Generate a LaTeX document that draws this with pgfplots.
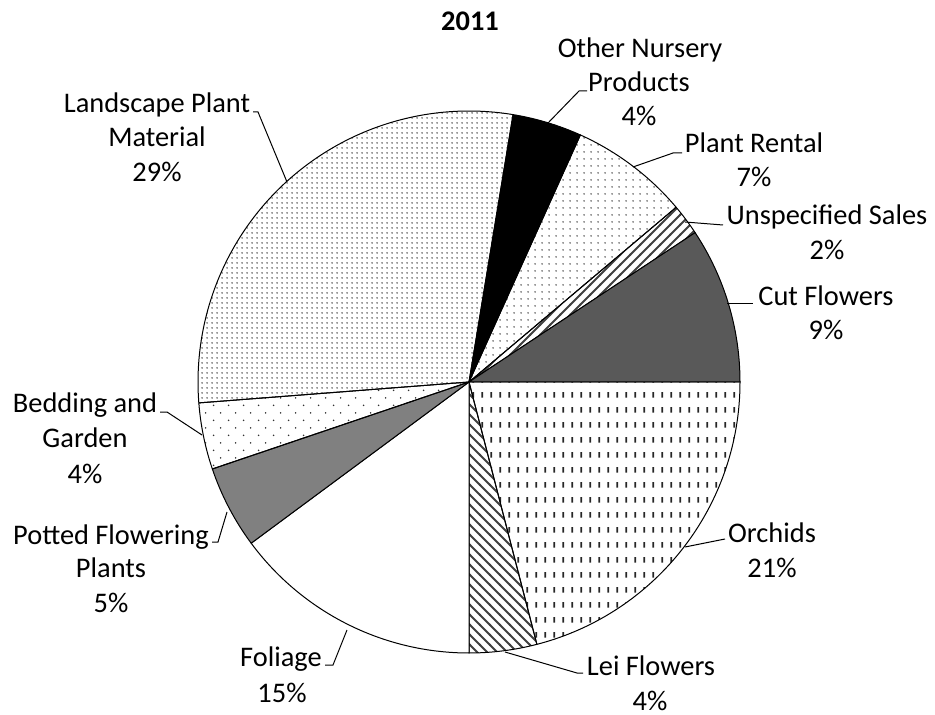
\documentclass[border=0pt]{standalone}
\usepackage{pgfplots}
\pgfplotsset{compat=1.18}
\usepackage{pgfplotstable}
\usetikzlibrary{patterns.meta}
\usepackage{fontspec}
\setmainfont{Carlito}

% slice shares in percent, clockwise from 3 o'clock
\pgfplotstableread{
pct   style
20.97 sOrch
4.03  sLei
14.86 sFol
4.94  sPot
3.97  sBed
28.83 sLand
4.14  sOther
7.11  sRent
1.86  sUnsp
9.29  sCut
}\pietable

\tikzdeclarepattern{name=vdash, type=colored,
  bounding box={(0,0) and (4.6pt,7.3pt)}, tile size={(4.6pt,7.3pt)},
  code={\fill[black!85] (1.8pt,2.3pt) rectangle (2.8pt,5pt);}}
\tikzdeclarepattern{name=nwl, type=colored,
  bounding box={(-0.5pt,-0.5pt) and (5.5pt,5.5pt)}, tile size={(5pt,5pt)},
  code={\draw[black!75, line width=0.9pt] (-0.5pt,5.5pt) -- (5.5pt,-0.5pt);}}
\tikzdeclarepattern{name=nel, type=colored,
  bounding box={(-0.5pt,-0.5pt) and (5.5pt,5.5pt)}, tile size={(5pt,5pt)},
  code={\draw[black!75, line width=0.9pt] (-0.5pt,-0.5pt) -- (5.5pt,5.5pt);}}
\tikzdeclarepattern{name=densedots, type=colored,
  bounding box={(0,0) and (2.5pt,2.5pt)}, tile size={(2.5pt,2.5pt)},
  code={\fill[black!80] (1.25pt,1.25pt) circle (0.45pt);}}
\tikzdeclarepattern{name=middots, type=colored,
  bounding box={(0,0) and (3.5pt,3.5pt)}, tile size={(3.5pt,3.5pt)},
  code={\fill[black!80] (1.75pt,1.75pt) circle (0.45pt);}}
\tikzdeclarepattern{name=sparsedots, type=colored,
  bounding box={(0,0) and (7.5pt,7.7pt)}, tile size={(7.5pt,7.7pt)},
  code={\fill[black!80] (1.9pt,1.9pt) circle (0.45pt);
        \fill[black!80] (5.65pt,5.75pt) circle (0.45pt);}}

\tikzset{
  sOrch/.style={pattern=vdash},
  sLei/.style={pattern=nwl},
  sFol/.style={fill=white},
  sPot/.style={fill=black!50},
  sBed/.style={pattern=sparsedots},
  sLand/.style={pattern=densedots},
  sOther/.style={fill=black},
  sRent/.style={pattern=middots},
  sUnsp/.style={pattern=nel},
  sCut/.style={fill=black!65},
}

\newcommand\lblfont{\fontsize{14.2}{17}\selectfont}
\newcommand\lbl[3]{\node[anchor=base, inner sep=0pt, font=\lblfont] at (axis cs:#1,#2) {#3};}

\begin{document}
\begin{tikzpicture}
\pgfplotstablegetrowsof{\pietable}
\pgfmathtruncatemacro\lastrow{\pgfplotsretval-1}
\begin{axis}[
    hide axis, scale only axis,
    width=467.5pt, height=357.5pt,
    xmin=0, xmax=935, ymin=0, ymax=715,
    y dir=reverse, clip=false
]
\path (axis cs:0,0) rectangle (axis cs:935,715);

% slices
\def\cum{0}
\pgfplotsforeachungrouped \i in {0,...,\lastrow}{
  \pgfplotstablegetelem{\i}{pct}\of\pietable
  \pgfmathsetmacro\a{-3.6*\cum}
  \pgfmathsetmacro\cum{\cum+\pgfplotsretval}
  \pgfmathsetmacro\b{-3.6*\cum}
  \pgfplotstablegetelem{\i}{style}\of\pietable
  \edef\temp{\noexpand\filldraw[\pgfplotsretval, draw=black, line width=0.5pt, line join=round]
    (axis cs:469,382) -- ++(\a:135.5pt) arc[start angle=\a, end angle=\b, radius=135.5pt] -- cycle;}
  \temp
}

% title
\node[anchor=base, inner sep=0pt, font=\lblfont\bfseries] at (axis cs:470,31) {2011};

% leader lines
\draw[line width=0.5pt] (axis cs:548,123) -- (axis cs:579,91) -- (axis cs:587,91);
\draw[line width=0.5pt] (axis cs:633,167) -- (axis cs:673,153) -- (axis cs:682,153);
\draw[line width=0.5pt] (axis cs:685,222) -- (axis cs:723,225);
\draw[line width=0.5pt] (axis cs:727,304) -- (axis cs:753,304);
\draw[line width=0.5pt] (axis cs:685,547) -- (axis cs:725,539);
\draw[line width=0.5pt] (axis cs:505,652) -- (axis cs:577,673) -- (axis cs:583,673);
\draw[line width=0.5pt] (axis cs:347,630) -- (axis cs:333,665) -- (axis cs:325,665);
\draw[line width=0.5pt] (axis cs:160,412) -- (axis cs:167,412) -- (axis cs:202,435);
\draw[line width=0.5pt] (axis cs:212,542) -- (axis cs:218,542) -- (axis cs:227,512);
\draw[line width=0.5pt] (axis cs:253,112) -- (axis cs:258,112) -- (axis cs:287,182);

% labels
\lbl{640}{58}{Other Nursery}
\lbl{639}{92}{Products}
\lbl{639}{126}{4\%}
\lbl{754}{153}{Plant Rental}
\lbl{754}{187}{7\%}
\lbl{827}{225}{Unspecified Sales}
\lbl{827}{260}{2\%}
\lbl{826}{306}{Cut Flowers}
\lbl{826}{340}{9\%}
\lbl{772}{542}{Orchids}
\lbl{772}{577}{21\%}
\lbl{651}{675}{Lei Flowers}
\lbl{650}{710}{4\%}
\lbl{281}{666}{Foliage}
\lbl{282}{702}{15\%}
\lbl{85}{413}{Bedding and}
\lbl{85}{447}{Garden}
\lbl{85}{483}{4\%}
\lbl{111}{544}{Potted Flowering}
\lbl{111}{577}{Plants}
\lbl{111}{612}{5\%}
\lbl{157}{113}{Landscape Plant}
\lbl{157}{147}{Material}
\lbl{157}{182}{29\%}
\end{axis}
\end{tikzpicture}
\end{document}
